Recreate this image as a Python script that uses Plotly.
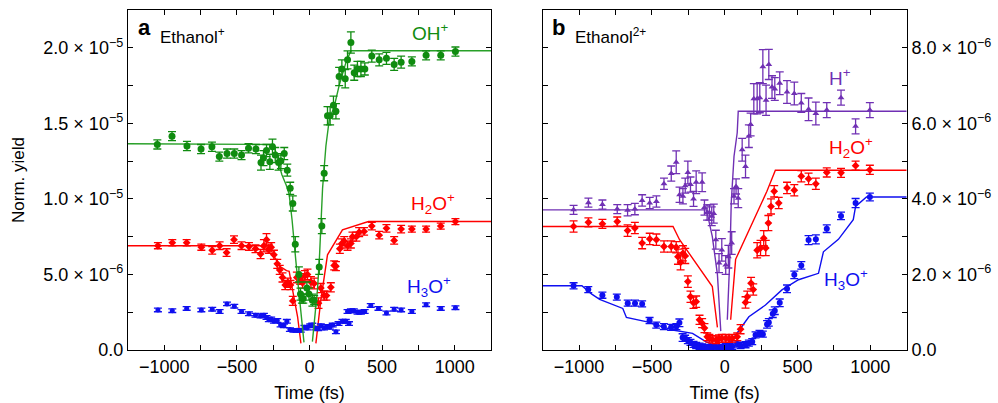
import plotly.graph_objects as go

# ---------------- Panel a : Ethanol+ (yield in units of 1e-6) ----------------
oh_a_t = [-1048, -947, -844, -747, -672, -621, -568, -518, -468, -420, -369, -334, -317, -296, -273, -255,
          -236, -213, -197, -174, -153, -133, -115, -98, -73, -62, -52, -43, -18, -4, 20, 32, 67, 85, 101,
          124, 142, 165, 182, 204, 223, 246, 262, 285, 308, 330, 354, 381, 429, 480, 530, 583, 631, 705,
          803, 904, 1005]
oh_a_y = [13.6, 14.15, 13.5, 13.3, 13.45, 12.8, 13.0, 13.0, 12.9, 13.35, 13.3, 12.4, 12.7, 13.2, 12.45, 13.45,
          12.9, 12.4, 12.5, 13.0, 11.9, 10.7, 9.7, 7.0, 5.0, 3.7, 3.4, 3.4, 4.1, 3.7, 3.3, 3.3, 5.5, 8.2, 11.7,
          15.5, 15.5, 16.2, 15.8, 18.1, 18.6, 17.95, 19.2, 20.35, 18.35, 18.6, 18.6, 18.6, 19.45, 19.2, 19.3,
          18.9, 19.05, 19.1, 19.5, 19.5, 19.75]
oh_a_err = [0.3, 0.3, 0.3, 0.3, 0.3, 0.3, 0.3, 0.3, 0.3, 0.3, 0.3, 0.5, 0.5, 0.4, 0.5, 0.5,
            0.5, 0.5, 0.5, 0.4, 0.4, 0.4, 0.5, 0.5, 0.5, 0.4, 0.3, 0.3, 0.4, 0.4, 0.4, 0.3, 0.5, 0.5, 0.5,
            0.6, 0.6, 0.6, 0.5, 0.6, 0.6, 0.6, 0.6, 0.7, 0.5, 0.5, 0.5, 0.4, 0.4, 0.4, 0.4, 0.4, 0.4, 0.3,
            0.3, 0.3, 0.3]
oh_a_fit_dn_t = [-1250, -245, -220, -190, -160, -140, -120, -105, -95, -80, -65, -50, -38]
oh_a_fit_dn_y = [13.65, 13.6, 12.6, 11.6, 10.9, 10.3, 8.6, 7.3, 6.0, 4.5, 3.0, 1.5, 0.5]
oh_a_fit_up_t = [20, 40, 55, 68, 78, 90, 113, 136, 170, 204, 250, 285, 1250]
oh_a_fit_up_y = [0.55, 2.5, 4.0, 6.0, 8.0, 10.7, 13.5, 15.25, 16.1, 17.5, 19.0, 19.8, 19.8]

h2o_a_t = [-1044, -945, -846, -745, -670, -619, -571, -520, -468, -417, -372, -337, -314, -296, -280, -264,
           -245, -222, -205, -186, -167, -149, -131, -115, -87, -64, -48, -32, -14, 10, 32, 62, 78, 101, 117,
           147, 170, 182, 209, 223, 239, 262, 285, 296, 323, 342, 376, 429, 480, 530, 583, 631, 705, 803,
           904, 1005]
h2o_a_y = [6.9, 7.1, 7.1, 6.8, 6.6, 6.9, 6.45, 7.3, 6.9, 6.85, 6.7, 6.35, 6.9, 7.3, 6.7, 6.8,
           6.3, 5.7, 5.3, 4.8, 4.3, 4.45, 4.3, 3.25, 4.8, 4.7, 4.45, 4.9, 5.0, 4.5, 4.4, 3.1, 4.1, 3.6, 3.6,
           4.15, 5.6, 5.55, 6.7, 7.05, 7.2, 6.9, 7.05, 7.5, 7.5, 7.8, 7.85, 8.2, 7.6, 8.05, 7.25, 8.0, 8.0, 8.0,
           8.2, 8.5]
h2o_a_err = [0.2, 0.2, 0.2, 0.2, 0.25, 0.25, 0.25, 0.25, 0.25, 0.25, 0.25, 0.3, 0.4, 0.4, 0.3, 0.3,
             0.3, 0.3, 0.3, 0.3, 0.3, 0.3, 0.3, 0.3, 0.35, 0.35, 0.35, 0.35, 0.35, 0.35, 0.35, 0.35, 0.3, 0.3, 0.3,
             0.3, 0.3, 0.3, 0.3, 0.3, 0.3, 0.3, 0.3, 0.3, 0.3, 0.3, 0.25, 0.25, 0.25, 0.25, 0.25, 0.25, 0.2, 0.2,
             0.2, 0.2]
h2o_a_fit_dn_t = [-1250, -340, -245, -199, -158, -140, -117, -82, -59]
h2o_a_fit_dn_y = [6.9, 6.9, 6.2, 5.5, 5.25, 5.2, 4.0, 2.2, 0.44]
h2o_a_fit_up_t = [44, 78, 124, 227, 406, 1250]
h2o_a_fit_up_y = [0.44, 3.3, 6.3, 7.95, 8.5, 8.5]

h3o_a_t = [-1044, -945, -846, -745, -670, -619, -568, -518, -468, -417, -372, -337, -314, -296, -280, -264,
           -245, -222, -199, -176, -156, -135, -111, -85, -60, -35, -16, 5, 19, 40, 60, 78, 100, 120, 140,
           160, 182, 200, 227, 250, 262, 272, 285, 305, 331, 354, 380, 422, 475, 530, 583, 631, 705, 803,
           904, 1005]
h3o_a_y = [2.65, 2.6, 2.75, 2.65, 2.7, 2.55, 3.05, 2.9, 2.55, 2.4, 2.3, 2.25, 2.3, 2.15, 2.0, 2.05,
           1.9, 1.95, 1.65, 1.6, 1.9, 1.35, 1.3, 1.3, 1.3, 1.5, 1.45, 1.6, 1.65, 1.45, 1.4, 1.6, 1.45, 1.55, 1.5,
           1.65, 1.2, 1.75, 1.9, 1.9, 2.55, 1.75, 2.6, 2.6, 2.5, 2.5, 2.55, 2.95, 2.75, 2.45, 2.7, 2.65, 2.55, 3.0,
           2.75, 2.8]
h3o_a_err = [0.12] * len(h3o_a_t)

# ---------------- Panel b : Ethanol2+ (yield in units of 1e-6) ----------------
hp_b_t = [-1038, -936, -840, -738, -667, -617, -567, -515, -469, -417, -367, -333, -310, -287, -271, -253,
          -235, -214, -196, -155, -139, -121, -105, -89, -75, -61, -39, -20, 7, 25, 48, 64, 78, 93, 120, 143,
          166, 178, 200, 223, 241, 262, 284, 303, 325, 344, 378, 428, 478, 526, 576, 626, 701, 799, 899, 997]
hp_b_y = [3.71, 3.9, 3.85, 3.73, 3.7, 3.73, 3.96, 3.89, 3.93, 4.4, 4.67, 4.97, 4.11, 4.07, 4.35, 4.7,
          4.38, 4.0, 4.44, 4.44, 3.77, 3.64, 3.64, 3.54, 3.61, 2.92, 2.3, 2.65, 2.25, 2.47, 2.83, 4.07, 4.33,
          4.02, 5.3, 4.86, 5.66, 5.97, 6.65, 6.65, 6.68, 7.5, 6.61, 7.56, 6.96, 6.91, 7.06, 6.83, 6.79, 6.54,
          6.37, 6.26, 6.35, 6.68, 5.92, 6.35]
hp_b_err = [0.12, 0.12, 0.12, 0.12, 0.15, 0.15, 0.15, 0.15, 0.15, 0.15, 0.2, 0.3, 0.2, 0.2, 0.2, 0.3,
            0.2, 0.2, 0.3, 0.25, 0.2, 0.2, 0.2, 0.25, 0.25, 0.25, 0.25, 0.3, 0.25, 0.3, 0.3, 0.2, 0.2,
            0.25, 0.3, 0.3, 0.3, 0.3, 0.4, 0.4, 0.4, 0.45, 0.4, 0.4, 0.3, 0.3, 0.3, 0.3, 0.3, 0.25,
            0.3, 0.3, 0.2, 0.2, 0.2, 0.2]
hp_b_fit_dn_t = [-1250, -125, -85, -50, -27]
hp_b_fit_dn_y = [3.71, 3.71, 3.0, 2.0, 0.5]
hp_b_fit_up_t = [18, 36, 45, 64, 86, 93, 1250]
hp_b_fit_up_y = [0.8, 2.5, 3.9, 5.13, 5.75, 6.32, 6.32]

h2o_b_t = [-1038, -936, -840, -738, -667, -617, -567, -515, -469, -417, -367, -333, -321, -303, -287, -271,
           -253, -235, -214, -196, -173, -155, -139, -120, -105, -85, -59, -40, -20, 7, 30, 52, 86, 109, 143,
           155, 181, 196, 223, 246, 268, 282, 300, 318, 340, 371, 428, 478, 526, 576, 626, 701, 799, 899, 997]
h2o_b_y = [3.27, 3.38, 3.34, 3.4, 3.16, 3.23, 2.83, 2.94, 2.92, 2.74, 2.74, 2.72, 2.47, 2.32, 2.56, 2.49,
           1.81, 1.41, 1.25, 1.28, 0.8, 0.71, 0.58, 0.35, 0.31, 0.28, 0.27, 0.3, 0.31, 0.31, 0.3, 0.31, 0.35,
           0.55, 1.26, 1.41, 1.77, 1.6, 2.64, 2.7, 2.96, 2.7, 3.36, 3.8, 4.2, 3.89, 4.29, 4.23, 4.6, 4.53, 4.4,
           4.7, 4.69, 4.88, 4.77]
h2o_b_err = [0.15, 0.12, 0.12, 0.12, 0.15, 0.15, 0.15, 0.15, 0.15, 0.15, 0.15, 0.15, 0.2, 0.2, 0.2, 0.2,
             0.15, 0.15, 0.15, 0.15, 0.12, 0.12, 0.12, 0.1, 0.1, 0.1, 0.1, 0.1, 0.1, 0.1, 0.1, 0.1, 0.1,
             0.12, 0.15, 0.15, 0.15, 0.15, 0.2, 0.2, 0.2, 0.2, 0.2, 0.2, 0.15, 0.15, 0.15, 0.15, 0.15, 0.15,
             0.15, 0.12, 0.12, 0.12, 0.12]
h2o_b_fit_dn_t = [-1250, -355, -310, -85, -50]
h2o_b_fit_dn_y = [3.27, 3.27, 2.92, 1.68, 0.6]
h2o_b_fit_up_t = [41, 75, 290, 348, 1250]
h2o_b_fit_up_y = [0.8, 2.4, 4.2, 4.76, 4.76]

h3o_b_t = [-1038, -937, -840, -741, -666, -616, -567, -516, -470, -418, -368, -332, -311, -289, -272, -253,
           -235, -214, -196, -173, -155, -139, -120, -105, -85, -59, -40, -20, 7, 30, 52, 86, 109, 143, 166,
           189, 212, 239, 262, 291, 303, 330, 344, 378, 428, 478, 526, 576, 626, 701, 799, 899, 997]
h3o_b_y = [1.70, 1.6, 1.45, 1.40, 1.24, 1.24, 1.22, 0.78, 0.66, 0.62, 0.6, 0.62, 0.72, 0.33, 0.31, 0.25,
           0.2, 0.15, 0.12, 0.1, 0.08, 0.06, 0.07, 0.05, 0.06, 0.08, 0.05, 0.07, 0.09, 0.08, 0.1, 0.16, 0.12,
           0.14, 0.18, 0.22, 0.4, 0.44, 0.42, 0.68, 0.73, 0.96, 1.04, 1.25, 1.62, 1.99, 2.24, 2.91, 2.93, 3.21,
           3.55, 3.89, 4.05]
h3o_b_err = [0.08] * 12 + [0.1, 0.1] + [0.08] * 25 + [0.1] * 8 + [0.12, 0.12, 0.1, 0.1, 0.12, 0.1]
h3o_b_fit_t = [-1250, -981, -913, -859, -700, -675, -540, -358, -221, -130, -85, -30, 20, 52, 166, 280,
               393, 507, 644, 678, 781, 883, 899, 974, 1250]
h3o_b_fit_y = [1.70, 1.70, 1.48, 1.34, 1.1, 0.86, 0.75, 0.53, 0.44, 0.22, 0.15, 0.08, 0.1, 0.27, 0.88, 1.19,
               1.59, 1.86, 2.03, 2.6, 2.93, 3.45, 3.8, 4.05, 4.05]

# tick labels (major) ; minor ticks halfway between
x_tickvals = [-1000, -500, 0, 500, 1000]
x_ticktext = ["\u22121000", "\u2212500", "0", "500", "1000"]
x_minor_vals = [-750, -250, 250, 750]
ya_tickvals = [0, 5, 10, 15, 20]
ya_ticktext = ["0.0", "5.0 \u00d7 10<sup>\u22126</sup>", "1.0 \u00d7 10<sup>\u22125</sup>",
               "1.5 \u00d7 10<sup>\u22125</sup>", "2.0 \u00d7 10<sup>\u22125</sup>"]
ya_minor_vals = [2.5, 7.5, 12.5, 17.5]
yb_tickvals = [0, 2, 4, 6, 8]
yb_ticktext = ["0.0", "2.0 \u00d7 10<sup>\u22126</sup>", "4.0 \u00d7 10<sup>\u22126</sup>",
               "6.0 \u00d7 10<sup>\u22126</sup>", "8.0 \u00d7 10<sup>\u22126</sup>"]
yb_minor_vals = [1, 3, 5, 7]

GREEN = "rgb(16,140,16)"
GREEN_L = "rgb(40,160,40)"
RED = "rgb(255,0,0)"
BLUE = "rgb(15,15,240)"
PURPLE = "rgb(112,48,180)"
FONT = "Liberation Sans, Arial, sans-serif"

fig = go.Figure()


def add_line(t, y, color, xa, ya):
    fig.add_trace(go.Scatter(x=t, y=y, mode="lines", line=dict(color=color, width=1.4),
                             xaxis=xa, yaxis=ya, showlegend=False, hoverinfo="skip"))


def add_pts(t, y, err, color, symbol, size, xa, ya):
    fig.add_trace(go.Scatter(x=t, y=y, mode="markers",
                             marker=dict(color=color, symbol=symbol, size=size, line=dict(width=0)),
                             error_y=dict(type="data", array=err, visible=True, color=color,
                                          thickness=1.3, width=4),
                             xaxis=xa, yaxis=ya, showlegend=False))


# panel a
add_line(h2o_a_fit_dn_t, h2o_a_fit_dn_y, RED, "x", "y")
add_line(h2o_a_fit_up_t, h2o_a_fit_up_y, RED, "x", "y")
add_pts(h3o_a_t, h3o_a_y, h3o_a_err, BLUE, "circle", 5, "x", "y")
add_pts(h2o_a_t, h2o_a_y, h2o_a_err, RED, "diamond", 6, "x", "y")
add_line(oh_a_fit_dn_t, oh_a_fit_dn_y, GREEN_L, "x", "y")
add_line(oh_a_fit_up_t, oh_a_fit_up_y, GREEN_L, "x", "y")
add_pts(oh_a_t, oh_a_y, oh_a_err, GREEN, "circle", 7, "x", "y")

# panel b
add_line(h3o_b_fit_t, h3o_b_fit_y, BLUE, "x2", "y2")
add_line(h2o_b_fit_dn_t, h2o_b_fit_dn_y, RED, "x2", "y2")
add_line(h2o_b_fit_up_t, h2o_b_fit_up_y, RED, "x2", "y2")
add_line(hp_b_fit_dn_t, hp_b_fit_dn_y, PURPLE, "x2", "y2")
add_line(hp_b_fit_up_t, hp_b_fit_up_y, PURPLE, "x2", "y2")
add_pts(h3o_b_t, h3o_b_y, h3o_b_err, BLUE, "circle", 6, "x2", "y2")
add_pts(h2o_b_t, h2o_b_y, h2o_b_err, RED, "diamond", 6, "x2", "y2")
add_pts(hp_b_t, hp_b_y, hp_b_err, PURPLE, "triangle-up", 6, "x2", "y2")

W, H = 998, 403
TOP, BOT = 10, 350


def xp(px):
    return px / W


def yp(py):
    return (BOT - py) / (BOT - TOP)


def axis_style(minor_vals):
    return dict(showline=True, linecolor="black", linewidth=1.3, mirror="allticks", ticks="inside",
                ticklen=5, tickwidth=1.2, tickcolor="black", showgrid=False, zeroline=False,
                tickfont=dict(family=FONT, size=18, color="black"),
                minor=dict(tickmode="array", tickvals=minor_vals, ticks="inside", ticklen=5,
                           tickwidth=1.2, tickcolor="black", showgrid=False))


fig.update_layout(
    width=W, height=H,
    margin=dict(l=0, r=0, t=TOP, b=H - BOT),
    paper_bgcolor="white", plot_bgcolor="white",
    font=dict(family=FONT, color="black"),
    xaxis=dict(domain=[xp(128), xp(491)], range=[-1250, 1250], tickmode="array",
               tickvals=x_tickvals, ticktext=x_ticktext, anchor="y",
               title=dict(text="Time (fs)", font=dict(family=FONT, size=18), standoff=10),
               **axis_style(x_minor_vals)),
    yaxis=dict(domain=[0, 1], range=[0, 22.5], tickmode="array", tickvals=ya_tickvals,
               ticktext=ya_ticktext, anchor="x", **axis_style(ya_minor_vals)),
    xaxis2=dict(domain=[xp(542.7), xp(906.7)], range=[-1250, 1250], tickmode="array",
                tickvals=x_tickvals, ticktext=x_ticktext, anchor="y2",
                title=dict(text="Time (fs)", font=dict(family=FONT, size=18), standoff=10),
                **axis_style(x_minor_vals)),
    yaxis2=dict(domain=[0, 1], range=[0, 9], tickmode="array", tickvals=yb_tickvals,
                ticktext=yb_ticktext, anchor="x2", side="right", **axis_style(yb_minor_vals)),
)

ann = []


def label(text, x, y, size, color="black", xanchor="center", bold=False):
    if bold:
        text = "<b>" + text + "</b>"
    ann.append(dict(text=text, x=xp(x), y=yp(y), xref="paper", yref="paper", showarrow=False,
                    xanchor=xanchor, yanchor="middle", font=dict(family=FONT, size=size, color=color)))


label("a", 144, 27, 22, bold=True)
label("Ethanol<sup>+</sup>", 158, 36, 17, xanchor="left")
label("b", 558, 27, 22, bold=True)
label("Ethanol<sup>2+</sup>", 573, 36, 17, xanchor="left")
label("OH<sup>+</sup>", 430, 32, 19, GREEN)
label("H<sub>2</sub>O<sup>+</sup>", 433, 203, 19, RED)
label("H<sub>3</sub>O<sup>+</sup>", 429, 286, 19, BLUE)
label("H<sup>+</sup>", 840, 77, 19, PURPLE)
label("H<sub>2</sub>O<sup>+</sup>", 851, 147, 19, RED)
label("H<sub>3</sub>O<sup>+</sup>", 846, 279, 19, BLUE)
ann.append(dict(text="Norm. yield", x=xp(18), y=yp(180), xref="paper", yref="paper", showarrow=False,
                textangle=-90, xanchor="center", yanchor="middle", font=dict(family=FONT, size=17)))
fig.update_layout(annotations=ann)

fig.write_html("out.html", config={"displayModeBar": False},
               post_script="document.body.style.margin='0px';")
